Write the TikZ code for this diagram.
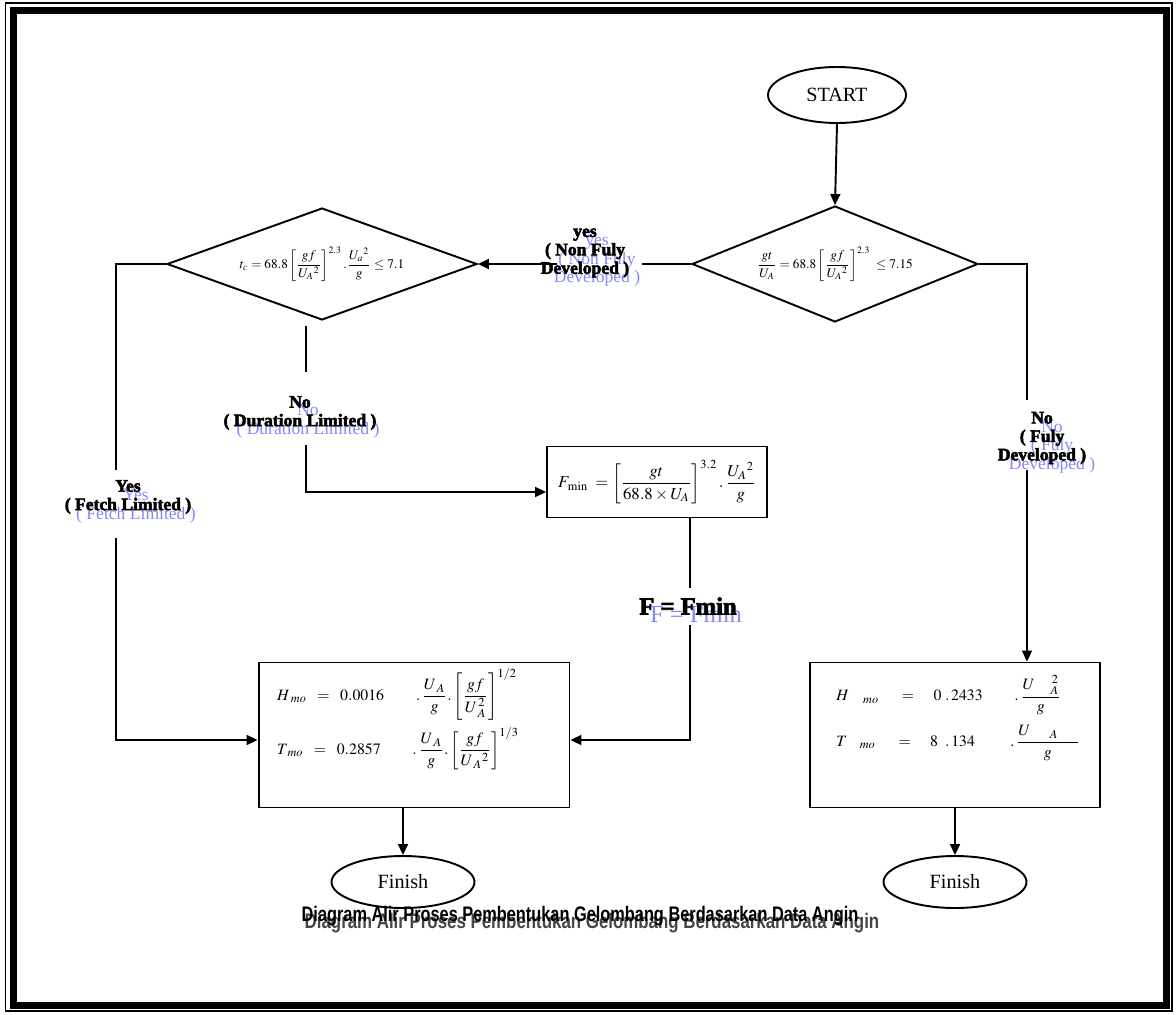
\documentclass[tikz,border=0pt]{standalone}
\usepackage{mathptmx}
\usepackage{fontspec}
\setmainfont{Liberation Serif}
\newfontfamily\heavyfont{Liberation Serif}[BoldFeatures={FakeBold=3}]
\newfontfamily\capfont{Liberation Sans}
\definecolor{ghostblue}{RGB}{135,135,250}
\definecolor{ghostgray}{RGB}{70,70,70}
\usetikzlibrary{shapes.geometric,arrows.meta,calc}

\begin{document}
\begin{tikzpicture}[x=0.02cm,y=-0.02cm,line width=1.1pt]
	\tikzstyle{decision}=[diamond,draw,inner sep=0pt,font=\fontsize{7.5}{9}\selectfont];
	\tikzstyle{terminal}=[ellipse,draw,inner sep=0pt,font=\fontsize{11.5}{13}\selectfont];
	\tikzstyle{process}=[rectangle,draw,inner sep=0pt];
	\tikzstyle{formula}=[align=left,inner sep=0pt,font=\fontsize{9}{11}\selectfont];
	\tikzstyle{answer}=[align=center,inner sep=0pt,font=\heavyfont\bfseries\fontsize{10}{10.5}\selectfont];
	\tikzstyle{ghost}=[align=center,inner sep=0pt,text=ghostblue,font=\fontsize{10}{10.5}\selectfont];
	\tikzstyle{flow}=[-{Triangle[length=0.22cm,width=0.2cm]}];
%<--------------------------------------------------------------------------->%

	\useasboundingbox (0,0) rectangle (1176,1014);
	%% page border
	\draw[line width=0.6pt] (5.5,3) rectangle (1172,1011);
	\draw[line width=4pt] (13.5,10.5) rectangle (1166,1005);
	%% boxes
	\node[terminal,minimum width=2.76cm,minimum height=1.12cm] (start) at (837,95) {START};
	\node[decision,aspect=2.47,minimum width=5.72cm,minimum height=2.32cm] (fully) at (835,264)
		{$\displaystyle \frac{gt}{U_A}=68.8\left[\frac{gf}{U_A{}^{2}}\right]^{2.3}\;\le 7.15$};
	\node[decision,aspect=2.74,minimum width=6.2cm,minimum height=2.24cm] (dur) at (322,264)
		{$\displaystyle t_c=68.8\left[\frac{gf}{U_A{}^{2}}\right]^{2.3}.\frac{U_a{}^{2}}{g}\le 7.1$};
	\node[process,minimum width=4.4cm,minimum height=1.42cm,font=\fontsize{9.5}{11}\selectfont] (fmin) at (657,482)
		{$\displaystyle F_{\,\mathrm{min}}\;=\left[\frac{gt}{68.8\times U_A}\right]^{3.2}.\,\frac{U_A{}^{2}}{g}$};
	\node[process,minimum width=6.22cm,minimum height=2.9cm] (hfetch) at (414,735) {};
	\node[formula] (hfetchf) at (398,719)
		{$\displaystyle H_{\;mo}\;\;=\;\;0.0016\qquad.\,\frac{U_{\;A}}{g}.\left[\frac{gf}{U_{\;A}^{\,2}}\right]^{1/2}$\\[3pt]
		 $\displaystyle T_{\;mo}\;\;=\;\;0.2857\qquad.\,\frac{U_{\;A}}{g}.\left[\frac{gf}{U_{\;A}{}^{2}}\right]^{1/3}$};
	\node[process,minimum width=5.8cm,minimum height=2.9cm] (hfull) at (955,735) {};
	\node[formula] (hfullf) at (958,718)
		{$\displaystyle H_{\quad mo}\quad\;=\quad0\;.\,2433\qquad.\,\frac{U\quad{}_A^{\,2}}{g}\;\;$\\[5pt]
		 $\displaystyle T_{\quad mo}\quad\;=\quad8\;\;.\,134\qquad\;.\,\frac{U\quad\;{}_A\quad\;}{g}$};
	\node[terminal,minimum width=2.86cm,minimum height=1.04cm] (fin1) at (403,882) {Finish};
	\node[terminal,minimum width=2.86cm,minimum height=1.04cm] (fin2) at (955,882) {Finish};
	%% answers
	\node[ghost] (lnong) at (597,262) {yes\\( Non Fuly\\Developed )};
	\node[answer] (lnon) at (585,253) {yes\\( Non Fuly\\Developed )};
	\node[ghost] (lfetchg) at (136,506) {Yes\\( Fetch Limited )};
	\node[answer] (lfetch) at (128,497) {Yes\\( Fetch Limited )};
	\node[ghost] (ldurg) at (308,421) {No\\( Duration Limited )};
	\node[answer] (ldur) at (300,413) {No\\( Duration Limited )};
	\node[ghost] (lfulyg) at (1052,447) {No\\( Fuly\\Developed )};
	\node[answer] (lfuly) at (1042,438) {No\\( Fuly\\Developed )};
	\node[ghost,font=\fontsize{14}{16}\selectfont] (lfming) at (696,614) {F = Fmin};
	\node[answer,font=\heavyfont\bfseries\fontsize{14}{16}\selectfont] (lfmin) at (688,606) {F = Fmin};
	%% free ends
	\coordinate (nonR)   at (642,264);
	\coordinate (nonL)   at (557,264);
	\coordinate (fetchT) at (116,470);
	\coordinate (fetchB) at (116,538);
	\coordinate (durT)   at (306,372);
	\coordinate (durB)   at (306,445);
	\coordinate (fminT)  at (690,588);
	\coordinate (fminB)  at (690,625);
	\coordinate (fulyT)  at (1027,400);
	\coordinate (fulyB)  at (1027,470);
	%% connectors
	\draw[flow] (start.south) -- (fully.north);
	\draw (fully.west) -- (nonR);
	\draw[flow] (nonL) -- (dur.east);
	\draw (dur.west) -| (fetchT);
	\draw[flow] (fetchB) |- ([yshift=-0.1cm]hfetch.west);
	\draw ([yshift=-0.1cm]dur.south -| durT) -- (durT);
	\draw[flow] (durB) |- ([yshift=-0.2cm]fmin.west);
	\draw (fmin.south -| fminT) -- (fminT);
	\draw[flow] (fminB) |- ([yshift=-0.1cm]hfetch.east);
	\draw (fully.east) -| (fulyT);
	\draw[flow] (fulyB) -- (fulyB |- hfull.north);
	\draw[flow] (fin1.north |- hfetch.south) -- (fin1.north);
	\draw[flow] (hfull.south) -- (fin2.north);
	%% caption
	\node[text=ghostgray,font=\capfont\bfseries\fontsize{12}{14}\selectfont] (capg) at (592,923)
		{\scalebox{0.8}[1]{Diagram Alir Proses Pembentukan Gelombang Berdasarkan Data Angin}};
	\node[font=\capfont\bfseries\fontsize{12}{14}\selectfont] (cap) at (580,916)
		{\scalebox{0.775}[1]{Diagram Alir Proses Pembentukan Gelombang Berdasarkan Data Angin}};
\end{tikzpicture}
\end{document}
